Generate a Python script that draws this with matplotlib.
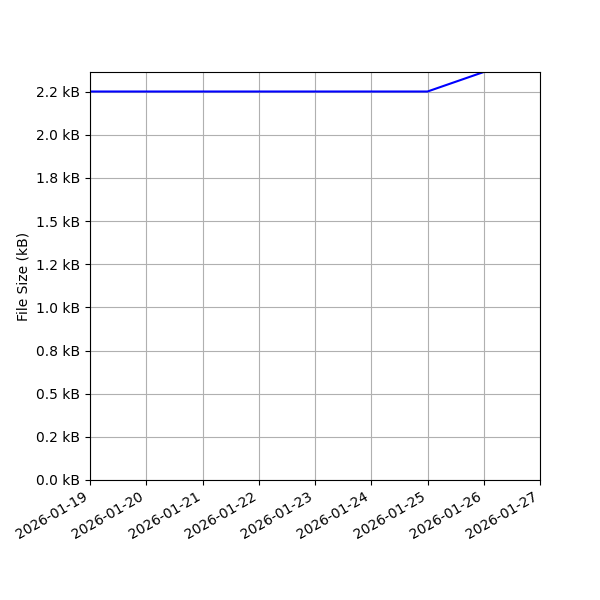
import matplotlib
matplotlib.use("Agg")
import matplotlib.pyplot as plt
import matplotlib.dates as mdates
from matplotlib.ticker import FuncFormatter, MultipleLocator
import datetime as dt

dates = ["2026-01-19", "2026-01-20", "2026-01-21", "2026-01-22",
         "2026-01-23", "2026-01-24", "2026-01-25", "2026-01-26"]
sizes_bytes = [2250, 2250, 2250, 2250, 2250, 2250, 2250, 2363]
x_start = "2026-01-19"
x_end = "2026-01-27"
y_max = 2363

xd = [dt.datetime.strptime(d, "%Y-%m-%d") for d in dates]

fig, ax = plt.subplots(figsize=(6, 6), dpi=100)
fig.subplots_adjust(left=0.15, right=0.9, top=0.88, bottom=0.2)
ax.plot(xd, sizes_bytes, color="blue", linewidth=1.5)
ax.set_xlim(dt.datetime.strptime(x_start, "%Y-%m-%d"), dt.datetime.strptime(x_end, "%Y-%m-%d"))
ax.set_ylim(0, y_max)
ax.yaxis.set_major_locator(MultipleLocator(250))
ax.yaxis.set_major_formatter(FuncFormatter(lambda v, p: f"{v/1000:.1f} kB"))
ax.xaxis.set_major_locator(mdates.DayLocator())
ax.xaxis.set_major_formatter(mdates.DateFormatter("%Y-%m-%d"))
ax.set_ylabel("File Size (kB)")
ax.grid(True)
for lbl in ax.get_xticklabels():
    lbl.set_rotation(30)
    lbl.set_ha("right")
fig.savefig("out.png", dpi=100)
